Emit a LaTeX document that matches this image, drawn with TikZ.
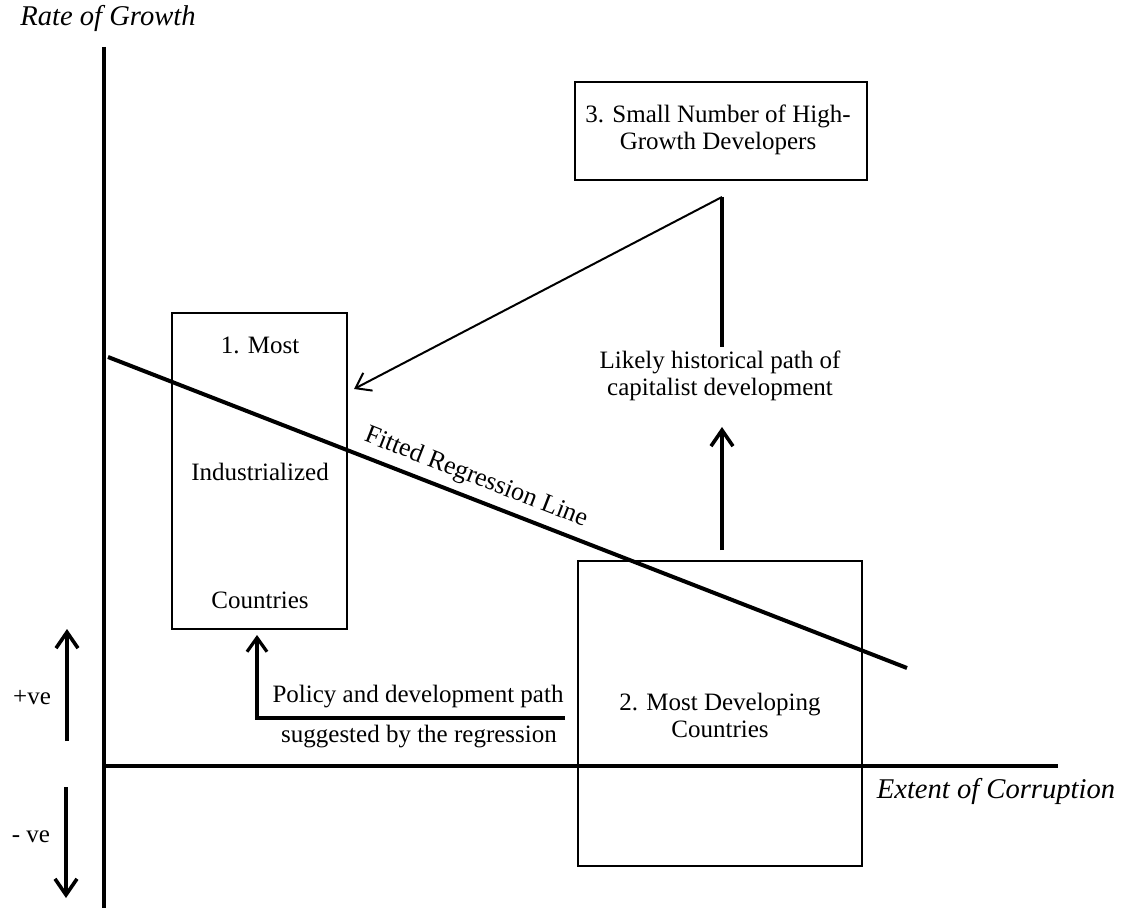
\documentclass[tikz,border=0pt]{standalone}
\usepackage{fontspec}
\setmainfont{Liberation Serif}
\usetikzlibrary{arrows.meta}
\begin{document}
\begin{tikzpicture}[x=0.5pt,y=-0.5pt,
  box/.style={draw, rectangle, inner sep=0pt, outer sep=0pt, line width=1.1pt},
  txt/.style={font=\fontsize{12.5}{13.5}\selectfont, inner sep=0pt, align=center},
  ital/.style={font=\fontsize{14.3}{17}\selectfont\itshape, inner sep=0pt},
  axis/.style={line width=2pt},
  bigarrow/.style={line width=1.8pt, -{Straight Barb[length=8pt,width=11pt]}},
  thinarrow/.style={line width=1pt, -{Straight Barb[length=7pt,width=10pt]}},
]
\useasboundingbox (0,0) rectangle (1123,908);

% axes
\coordinate (ytop) at (104,47);
\coordinate (ybot) at (104,908);
\coordinate (xl) at (102,766);
\coordinate (xr) at (1058,766);
\draw[axis] (ytop) -- (ybot);
\draw[axis] (xl) -- (xr);
\node[ital] (ylab) at (108,18) {Rate of Growth};
\node[ital] (xlab) at (996,791) {Extent of Corruption};

% boxes
\node[box, minimum width=87.5pt, minimum height=158pt] (b1) at (259.5,471) {};
\node[box, minimum width=142pt, minimum height=152.5pt, line width=1.3pt] (b2) at (720,713.5) {};
\node[box, minimum width=146pt, minimum height=49pt, line width=1.3pt] (b3) at (721,131) {};

\node[txt] (t1a) at (260,345) {1. Most};
\node[txt] (t1b) at (260,472) {Industrialized};
\node[txt] (t1c) at (260,600) {Countries};
\node[txt] (t2) at (720,715) {2. Most Developing\\Countries};
\node[txt] (t3) at (718,130) {3. Small Number of High-\\Growth Developers};

% regression line
\coordinate (r1) at (108,357);
\coordinate (r2) at (907,668);
\draw[line width=2pt] (r1) -- (r2);
\node[txt, font=\fontsize{13}{14}\selectfont, rotate=-21.3] (rl) at (476,478) {Fitted Regression Line};

% historical path
\coordinate (v) at (722,197);
\coordinate (vd) at (722,347);
\coordinate (tip1) at (354,389);
\draw[line width=1.8pt] (v) -- (vd);
\draw[thinarrow] (v) -- (tip1);
\node[txt] (hist) at (720,376) {Likely historical path of\\capitalist development};
\coordinate (ua) at (722,550);
\coordinate (ub) at (722,427);
\draw[bigarrow] (ua) -- (ub);

% policy path
\coordinate (p1) at (565,718);
\coordinate (p2) at (257,718);
\coordinate (p3) at (257,635);
\draw[line width=1.6pt, -{Straight Barb[length=7pt,width=10pt]}] (p1) -- (p2) -- (p3);
\node[txt] (pa) at (418,697) {Policy and development path};
\node[txt] (pb) at (419,737) {suggested by the regression};

% +ve / -ve
\coordinate (pv1) at (67,741);
\coordinate (pv2) at (67,629);
\draw[bigarrow] (pv1) -- (pv2);
\node[txt] (pvl) at (32,698) {+ve};
\coordinate (nv1) at (66,787);
\coordinate (nv2) at (66,898);
\draw[bigarrow] (nv1) -- (nv2);
\node[txt] (nvl) at (31,837) {- ve};
\end{tikzpicture}
\end{document}
